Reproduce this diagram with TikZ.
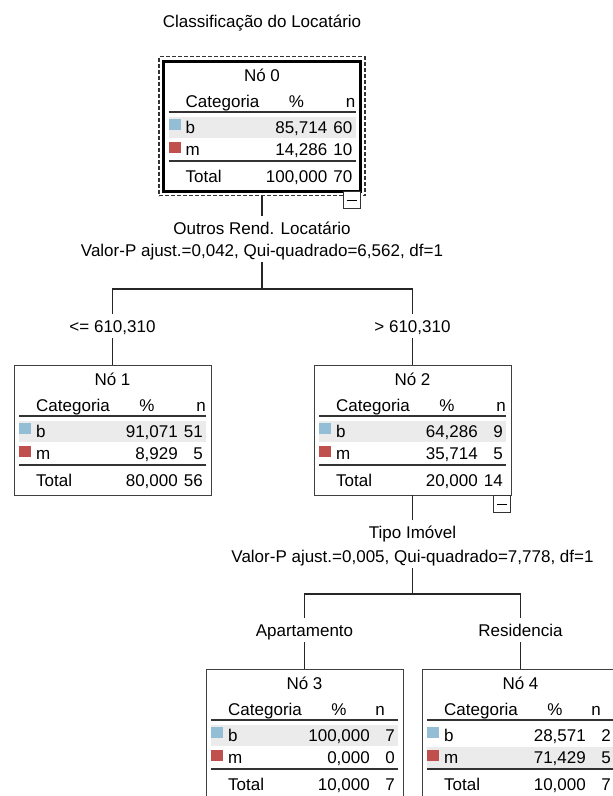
\documentclass[tikz,border=0pt]{standalone}
\usepackage{fontspec}
\setmainfont{Liberation Sans}
\usetikzlibrary{positioning}
\definecolor{azulcat}{RGB}{148,190,214}
\definecolor{vermcat}{RGB}{192,80,77}
\definecolor{faixacinza}{RGB}{235,235,235}
\tikzset{
texto/.style={font=\fontsize{17}{20}\selectfont, inner sep=0pt}, % every text inside a node table
rotulo/.style={font=\fontsize{17}{20}\selectfont, text height=12pt, text depth=0pt, inner xsep=2pt, inner ysep=6pt}, % texts on the connectors
caixa/.style={draw=black!75, line width=1pt, minimum width=197pt, minimum height=130pt, inner sep=0pt, outer sep=0pt}, % frame of a node
destaque/.style={draw=black, line width=3pt}, % frame of the selected node
selecao/.style={draw=black!80, dash pattern=on 4pt off 2pt, line width=1.2pt, minimum width=206pt, minimum height=139pt, inner sep=0pt},
menos/.style={draw=black!80, fill=white, line width=1pt, minimum size=17pt, inner sep=0pt}, % the small collapse box
ligacao/.style={draw=black!85, line width=1.2pt},
regra/.style={draw=black!80, line width=1.6pt},
faixa/.style={fill=faixacinza}, % shaded row
yfaixa/.store in=\yfaixa,
xcabn/.store in=\xcabn,
}
% #1 number, #2 top left corner, #3-#8 values, #9 extra options
\newcommand{\tabno}[9]{%
\begin{scope}[shift={#2}, yfaixa=56, xcabn=192, borda/.style={}, #9]
\fill[faixa] (5,\yfaixa) rectangle (192,\yfaixa+21);
\node[caixa, borda, anchor=north west] (n#1) at (0,0) {};
\node[texto, anchor=base] (n#1tit) at (98.5,20) {Nó #1};
\node[texto, anchor=base west] (n#1cat) at (22,46) {Categoria};
\node[texto, anchor=base] (n#1pct) at (133,46) {\%};
\node[texto, anchor=base east] (n#1n) at (\xcabn,46) {n};
\draw[regra] (5,51) -- (192,51);
\fill[azulcat] (5,58) rectangle (17,69);
\node[texto, anchor=base west] (n#1b) at (22,72) {b};
\node[texto, anchor=base east] (n#1bp) at (164,72) {#3};
\node[texto, anchor=base east] (n#1bn) at (189,72) {#4};
\fill[vermcat] (5,81) rectangle (17,92);
\node[texto, anchor=base west] (n#1m) at (22,94) {m};
\node[texto, anchor=base east] (n#1mp) at (164,94) {#5};
\node[texto, anchor=base east] (n#1mn) at (189,94) {#6};
\draw[regra] (5,100) -- (192,100);
\node[texto, anchor=base west] (n#1tot) at (22,121) {Total};
\node[texto, anchor=base east] (n#1tp) at (164,121) {#7};
\node[texto, anchor=base east] (n#1tn) at (189,121) {#8};
\end{scope}}

\begin{document}
\begin{tikzpicture}[x=1pt, y=-1pt]
\fill[white, use as bounding box] (0,0) rectangle (613,796);
\clip (0,0) rectangle (613,796);

\node[texto, anchor=base] (titulo) at (262,27) {Classificação do Locatário};

\tabno{0}{(163.5,61)}{85,714}{60}{14,286}{10}{100,000}{70}{borda/.style=destaque}
\tabno{1}{(14,365)}{91,071}{51}{8,929}{5}{80,000}{56}{}
\tabno{2}{(314,365)}{64,286}{9}{35,714}{5}{20,000}{14}{}
\tabno{3}{(206,669)}{100,000}{7}{0,000}{0}{10,000}{7}{xcabn=179}
\tabno{4}{(422,669)}{28,571}{2}{71,429}{5}{10,000}{7}{xcabn=179, yfaixa=78}

\node[selecao] (sel0) at (n0) {};
\node[menos, anchor=north east] (menos0) at (n0.south east) {};
\draw[line width=1pt] ([xshift=4pt]menos0.west) -- ([xshift=-4pt]menos0.east);
\node[menos, anchor=north east] (menos2) at (n2.south east) {};
\draw[line width=1pt] ([xshift=4pt]menos2.west) -- ([xshift=-4pt]menos2.east);

% first split
\node[rotulo, anchor=base] (r0) at (262,234) {Outros Rend. Locatário};
\node[rotulo, anchor=base] (v0) at (262,256) {Valor-P ajust.=0,042, Qui-quadrado=6,562, df=1};
\coordinate (b0) at (262,289);
\node[rotulo, anchor=base] (e1) at (112.5,332) {<= 610,310};
\node[rotulo, anchor=base] (e2) at (412.5,332) {> 610,310};

% second split
\node[rotulo, anchor=base] (r2) at (412.5,538) {Tipo Imóvel};
\node[rotulo, anchor=base] (v2) at (412.5,562) {Valor-P ajust.=0,005, Qui-quadrado=7,778, df=1};
\coordinate (b2) at (412.5,594);
\node[rotulo, anchor=base] (e3) at (304.5,636) {Apartamento};
\node[rotulo, anchor=base] (e4) at (520.5,636) {Residencia};

\draw[ligacao] (sel0) -- (r0);
\draw[ligacao] (v0) -- (b0);
\draw[ligacao] (b0) -| (e1);
\draw[ligacao] (b0) -| (e2);
\draw[ligacao] (e1) -- (n1);
\draw[ligacao] (e2) -- (n2);
\draw[ligacao] (n2) -- (r2);
\draw[ligacao] (v2) -- (b2);
\draw[ligacao] (b2) -| (e3);
\draw[ligacao] (b2) -| (e4);
\draw[ligacao] (e3) -- (n3);
\draw[ligacao] (e4) -- (n4);
\end{tikzpicture}
\end{document}
